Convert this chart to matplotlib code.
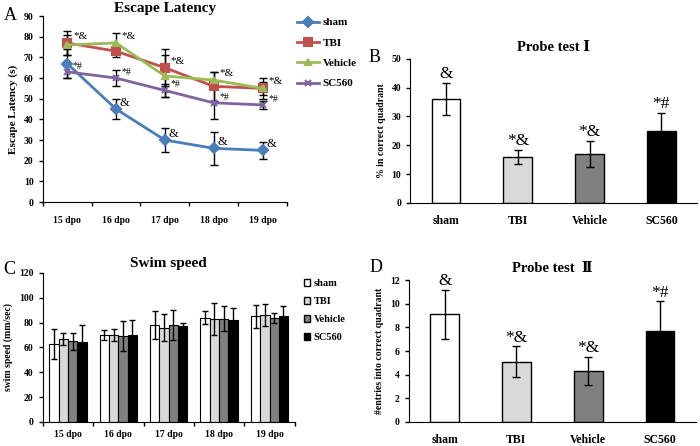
import numpy as np
import matplotlib
matplotlib.use("Agg")
import matplotlib.pyplot as plt
from matplotlib.patches import Patch

plt.rcParams['font.family'] = ['Liberation Serif', 'DejaVu Serif', 'Noto Sans CJK SC']
plt.rcParams['font.weight'] = 'bold'

# ---- data ----
days = ['15 dpo', '16 dpo', '17 dpo', '18 dpo', '19 dpo']
groups = ['sham', 'TBI', 'Vehicle', 'SC560']

lat_sham = [67, 45, 30, 26, 25]
lat_sham_err = [7, 5, 6, 8, 4]
lat_tbi = [77, 73, 65, 56, 55]
lat_tbi_err = [6, 3, 9, 7, 5]
lat_veh = [76, 77, 61, 59, 55]
lat_veh_err = [5, 5, 10, 4, 3]
lat_sc = [63, 60, 54, 48, 47]
lat_sc_err = [3, 4, 3, 8, 2]

probe1 = [36, 16, 17, 25]
probe1_err = [5.5, 2.5, 4.5, 6.2]
probe1_lbl = ['&', '*&', '*&', '*#']

speed = {
    'sham':    [63, 70, 78, 84, 85],
    'TBI':     [67, 70, 76, 83, 86],
    'Vehicle': [65, 69, 78, 83, 84],
    'SC560':   [64, 70, 77, 82, 85],
}
speed_err = {
    'sham':    [12, 4, 11, 5, 9],
    'TBI':     [5, 5, 11, 13, 9],
    'Vehicle': [7, 12, 12, 10, 4],
    'SC560':   [14, 12, 3, 10, 8],
}

probe2 = [9.1, 5.1, 4.3, 7.7]
probe2_err = [2.1, 1.3, 1.2, 2.5]
probe2_lbl = ['&', '*&', '*&', '*#']

line_colors = ['#4a7ebb', '#c0504d', '#9bbb59', '#8064a2']
bar_colors = ['white', '#d9d9d9', '#808080', 'black']

fig = plt.figure(figsize=(7, 4.46), dpi=100)


def style(ax, fs=7):
    ax.spines['top'].set_visible(False)
    ax.spines['right'].set_visible(False)
    ax.tick_params(direction='out', length=3, width=1, labelsize=fs)
    for lbl in ax.get_xticklabels() + ax.get_yticklabels():
        lbl.set_fontweight('bold')


# ---- A: escape latency ----
axA = fig.add_axes([0.061, 0.547, 0.349, 0.417])
x = np.arange(len(days))
series = [(lat_sham, lat_sham_err, 'D'), (lat_tbi, lat_tbi_err, 's'),
          (lat_veh, lat_veh_err, '^'), (lat_sc, lat_sc_err, 'x')]
for (v, e, m), c, g in zip(series, line_colors, groups):
    axA.plot(x, v, color=c, marker=m, lw=2, ms=5 if m != 's' else 6,
             mew=1.5, label=g, zorder=3)
    axA.errorbar(x, v, yerr=e, fmt='none', ecolor='black', elinewidth=1,
                 capsize=3, capthick=1, zorder=2)
for i in x:
    top = max(lat_tbi[i], lat_veh[i])
    axA.text(i + 0.12, top + 2, '*&', fontsize=8, fontweight='normal')
    axA.text(i + 0.12, lat_sc[i] + 1.5, '*#', fontsize=7, fontweight='normal')
    if i > 0:
        axA.text(i + 0.08, lat_sham[i] + 1.5, '&', fontsize=9, fontweight='normal')
axA.set_xlim(-0.5, 4.5)
axA.set_ylim(0, 90)
axA.set_yticks(range(0, 91, 10))
axA.set_xticks(np.arange(-0.5, 5, 1))
axA.set_xticklabels([])
axA.set_xticks(x, minor=True)
axA.set_xticklabels(days, minor=True)
axA.tick_params(axis='x', which='minor', length=0, pad=10)
style(axA)
for lbl in axA.get_xticklabels(minor=True):
    lbl.set_fontweight('bold')
    lbl.set_fontsize(7)
axA.set_ylabel('Escape Latency (s)', fontsize=8, fontweight='bold')
axA.set_title('Escape Latency', fontsize=11, fontweight='bold', pad=3)
axA.legend(loc='upper left', bbox_to_anchor=(1.0, 1.045), frameon=False,
           handlelength=2.0, handletextpad=0.3, labelspacing=0.95,
           prop={'weight': 'bold', 'size': 8})
fig.text(0.005, 0.955, 'A', fontsize=13, fontweight='normal')


def probe_panel(ax, vals, errs, lbls, ymax, step, ylabel, title, gap):
    xb = np.arange(len(groups))
    ax.bar(xb, vals, width=0.4, color=bar_colors, edgecolor='black', lw=1,
           yerr=errs, capsize=3, error_kw=dict(elinewidth=1, capthick=1))
    for i in xb:
        ax.text(i, vals[i] + errs[i] + gap, lbls[i], ha='center', va='bottom',
                fontsize=12.5, fontweight='normal')
    ax.set_xlim(-0.5, 3.5)
    ax.set_ylim(0, ymax)
    ax.set_yticks(np.arange(0, ymax + step / 2, step))
    ax.set_xticks(xb)
    ax.set_xticklabels(groups)
    style(ax)
    ax.tick_params(axis='x', length=0, pad=9, labelsize=8.5)
    ax.set_ylabel(ylabel, fontsize=7, fontweight='bold')
    ax.set_title(title, fontsize=10.5, fontweight='bold', pad=6)


# ---- B ----
axB = fig.add_axes([0.586, 0.545, 0.41, 0.323])
probe_panel(axB, probe1, probe1_err, probe1_lbl, 50, 10,
            '% in correct quadrant', 'Probe test Ⅰ', 0.3)
fig.text(0.527, 0.86, 'B', fontsize=13, fontweight='normal')

# ---- C: swim speed ----
axC = fig.add_axes([0.061, 0.054, 0.36, 0.334])
w = 0.185
for k, g in enumerate(groups):
    axC.bar(x + (k - 1.5) * w, speed[g], width=w, color=bar_colors[k],
            edgecolor='black', lw=0.8, yerr=speed_err[g], capsize=2.5,
            error_kw=dict(elinewidth=1, capthick=1), label=g)
axC.set_xlim(-0.5, 4.5)
axC.set_ylim(0, 120)
axC.set_yticks(range(0, 121, 20))
axC.set_xticks(np.arange(-0.5, 5, 1))
axC.set_xticklabels([])
axC.set_xticks(x, minor=True)
axC.set_xticklabels(days, minor=True)
axC.tick_params(axis='x', which='minor', length=0, pad=6)
style(axC)
for lbl in axC.get_xticklabels(minor=True):
    lbl.set_fontweight('bold')
    lbl.set_fontsize(7)
axC.set_ylabel('swim speed (mm/sec)', fontsize=7, fontweight='bold')
axC.set_title('Swim speed', fontsize=11, fontweight='bold', pad=4)
handles = [Patch(facecolor=c, edgecolor='black', lw=1) for c in bar_colors]
axC.legend(handles, groups, loc='upper left', bbox_to_anchor=(1.0, 1.02),
           frameon=False, handlelength=0.6, handleheight=0.6, handletextpad=0.3,
           labelspacing=0.85, prop={'weight': 'bold', 'size': 7.5})
fig.text(0.005, 0.385, 'C', fontsize=13, fontweight='normal')

# ---- D ----
axD = fig.add_axes([0.584, 0.054, 0.41, 0.318])
probe_panel(axD, probe2, probe2_err, probe2_lbl, 12, 2,
            '#entries into correct quadrant', 'Probe test  Ⅱ', 0.05)
fig.text(0.528, 0.39, 'D', fontsize=13, fontweight='normal')

fig.savefig('out.png', dpi=100)
